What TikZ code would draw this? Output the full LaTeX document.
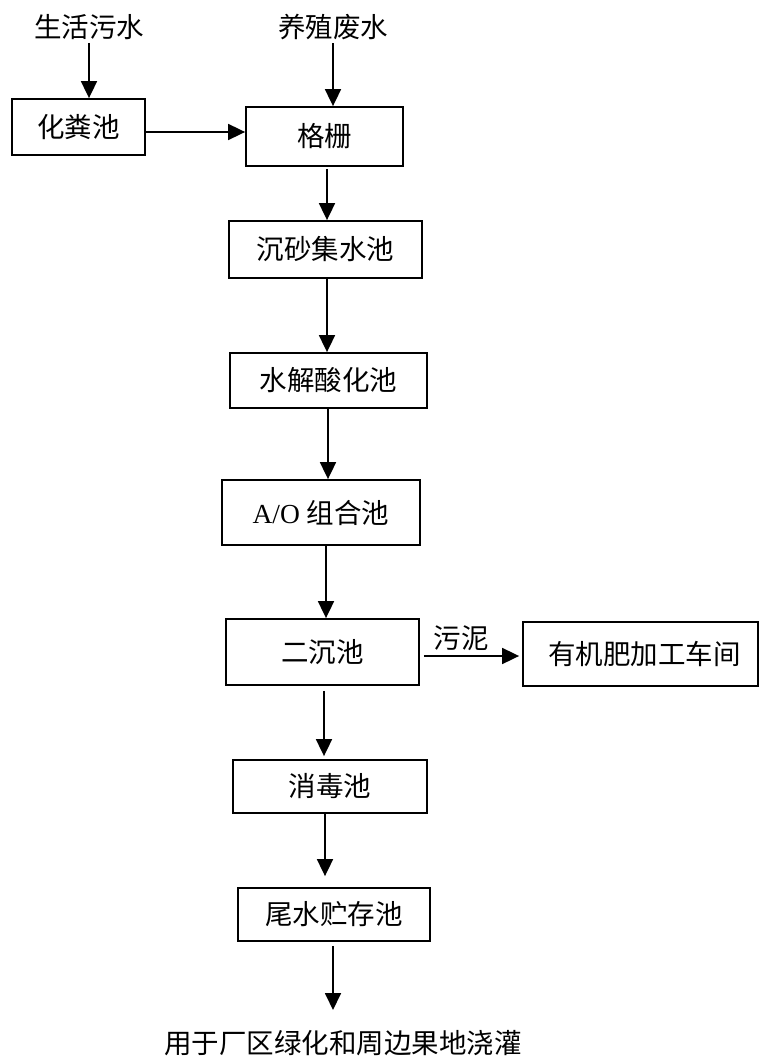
\documentclass[tikz,border=0pt]{standalone}
\usepackage{fontspec}
\setmainfont{Noto Sans CJK SC}
\newfontfamily\latinserif{Liberation Serif}
\usetikzlibrary{arrows.meta}
\begin{document}
\begin{tikzpicture}[x=1pt,y=-1pt,
  every node/.style={font=\fontsize{27.5}{32}\selectfont, inner sep=0pt},
  lbl/.style={},
  box/.style={draw, line width=1.8pt},
  arr/.style={line width=1.8pt, -{Triangle[width=16pt,length=17pt]}}]
\useasboundingbox (0,0) rectangle (759,1059);
\fill[white] (0,0) rectangle (759,1059);

\node[lbl] (src1) at (89,27) {生活污水};
\node[lbl] (src2) at (333,27) {养殖废水};
\node[box, minimum width=133pt, minimum height=56pt] (hfc) at (78.5,127) {化粪池};
\node[box, minimum width=157pt, minimum height=59pt] (gs) at (324.5,136.5) {格栅};
\node[box, minimum width=193pt, minimum height=57pt] (cs) at (325.5,249.5) {沉砂集水池};
\node[box, minimum width=197pt, minimum height=55pt] (sj) at (328.5,380.5) {水解酸化池};
\node[box, minimum width=198pt, minimum height=65pt] (ao) at (321,512.5) {{\latinserif A/O }组合池};
\node[box, minimum width=193pt, minimum height=66pt] (ec) at (322.5,652) {二沉池};
\node[box, minimum width=235pt, minimum height=64pt] (yj) at (640.5,654) {\hspace*{8pt}有机肥加工车间};
\node[box, minimum width=194pt, minimum height=53pt] (xd) at (330,786.5) {消毒池};
\node[box, minimum width=192pt, minimum height=53pt] (ws) at (334,914.5) {尾水贮存池};
\node[lbl] (out) at (343,1043) {用于厂区绿化和周边果地浇灌};
\node[lbl] (sn) at (461,638) {污泥};
\coordinate (end) at (333,1010);

\draw[arr, shorten <=3pt] (src1.south) -- (src1.south |- hfc.north);
\draw[arr, shorten <=3pt] (src2.south) -- (src2.south |- gs.north);
\draw[arr] ([yshift=-5pt]hfc.east) -- ([yshift=-5pt]hfc.east -| gs.west);
\draw[arr, shorten <=2pt] ([xshift=2.5pt]gs.south) -- ([xshift=2.5pt]gs.south |- cs.north);
\draw[arr] ([xshift=1.5pt]cs.south) -- ([xshift=1.5pt]cs.south |- sj.north);
\draw[arr] ([xshift=-0.5pt]sj.south) -- ([xshift=-0.5pt]sj.south |- ao.north);
\draw[arr] ([xshift=5pt]ao.south) -- ([xshift=5pt]ao.south |- ec.north);
\draw[arr, shorten <=4pt, shorten >=3pt] ([yshift=-4pt]ec.east) -- ([yshift=-4pt]ec.east -| yj.west);
\draw[arr, shorten <=5pt, shorten >=3pt] ([xshift=1.5pt]ec.south) -- ([xshift=1.5pt]ec.south |- xd.north);
\draw[arr, shorten >=11pt] ([xshift=-5pt]xd.south) -- ([xshift=-5pt]xd.south |- ws.north);
\draw[arr, shorten <=4pt] (ws.south -| end) -- (end);
\end{tikzpicture}
\end{document}
